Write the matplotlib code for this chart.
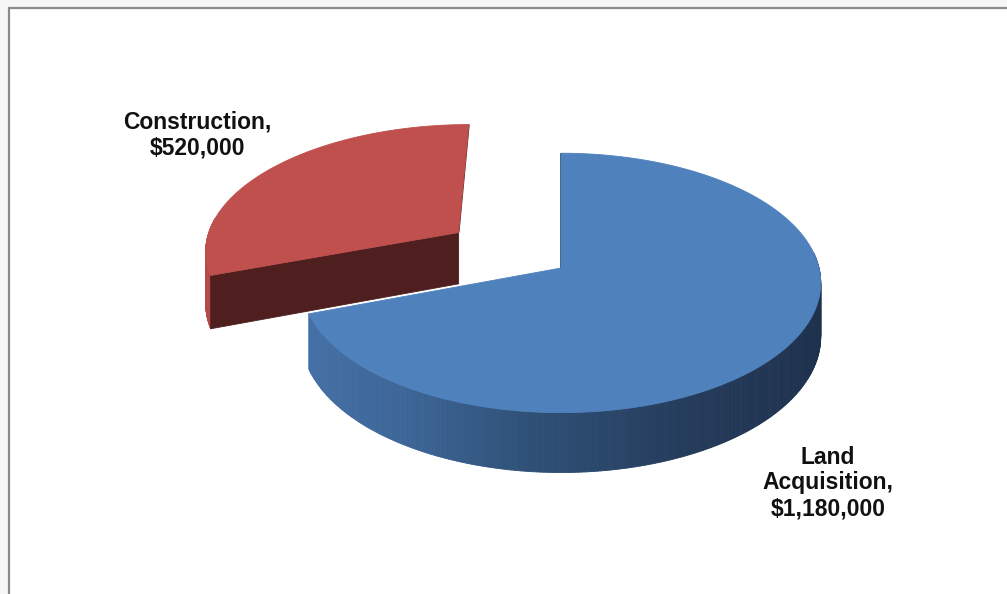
import numpy as np
import matplotlib
matplotlib.use("Agg")
import matplotlib.pyplot as plt
from matplotlib.patches import Polygon, Rectangle
from matplotlib.collections import PolyCollection
from matplotlib.colors import to_rgb

# budget split
names = ["Land\nAcquisition", "Construction"]
values = [1180000, 520000]
explode = [0.0, 0.5]

top_colors = ["#4f81bd", "#c0504d"]
cut_colors = ["#1f3450", "#4f1f1f"]
# side wall shading, keyed on cos(angle): light at the left, dark at the right
wall_stops = [
    [(-1.0, "#4672a8"), (-0.55, "#3d6698"), (-0.12, "#2f5178"), (0.46, "#243b5a"), (1.0, "#1e314d")],
    [(-1.0, "#b64b48"), (1.0, "#8a3836")],
]
label_xy = [(828, 483), (197, 135)]

W, H = 1007, 594
CX, CY = 561, 268      # screen position of the pie centre
A, B = 258, 128        # half axes of the top ellipse
K = 0.115              # perspective strength
DEPTH = 53             # pie thickness


def project(u, v, z=0.0):
    f = 1.0 / (1.0 + K * v)
    return CX + A * u * f, CY - B * v * f + DEPTH * z * f


def wall_color(stops, c):
    xs = [s[0] for s in stops]
    rgb = np.array([to_rgb(s[1]) for s in stops])
    return tuple(np.interp(c, xs, rgb[:, k]) for k in range(3))


fig = plt.figure(figsize=(W / 100, H / 100), dpi=100, facecolor="#f6f6f6")
ax = fig.add_axes([0, 0, 1, 1])
ax.set_xlim(0, W)
ax.set_ylim(H, 0)
ax.axis("off")
ax.add_patch(Rectangle((9, 8), W, H, facecolor="white", edgecolor="#8a8a8a",
                       lw=1.6, zorder=0))

fracs = np.array(values, dtype=float) / sum(values)
ends = 90 - 360 * np.cumsum(fracs)
starts = ends + 360 * fracs

slices = []
for i in range(len(values)):
    t1, t2 = ends[i], starts[i]
    mid = np.radians((t1 + t2) / 2)
    ou, ov = explode[i] * np.cos(mid), explode[i] * np.sin(mid)
    slices.append((ov, i, t1, t2, ou))

# far slices first
slices.sort(key=lambda s: -s[0])

for ov, i, t1, t2, ou in slices:
    ts = np.radians(np.linspace(t1, t2, 400))
    ru, rv = ou + np.cos(ts), ov + np.sin(ts)
    tx, ty = project(ru, rv, 0)
    bx, by = project(ru, rv, 1)
    ax0, ay0 = project(ou, ov, 0)
    ax1, ay1 = project(ou, ov, 1)

    # outer wall, near half only
    quads, cols = [], []
    for j in range(len(ts) - 1):
        tm = (ts[j] + ts[j + 1]) / 2
        if np.sin(tm) > 0.12:
            continue
        quads.append([(tx[j], ty[j]), (tx[j + 1], ty[j + 1]),
                      (bx[j + 1], by[j + 1]), (bx[j], by[j])])
        cols.append(wall_color(wall_stops[i], np.cos(tm)))
    if quads:
        ax.add_collection(PolyCollection(quads, facecolors=cols, edgecolors=cols,
                                         linewidths=0.6, zorder=2))

    # cut faces
    for t, k, sign in [(t1, 0, 1), (t2, -1, -1)]:
        c = np.cos(np.radians(t))
        if abs(c) < 1e-6:
            ax.plot([ax0, tx[k]], [ay0, ty[k]], color=cut_colors[i], lw=1.2,
                    solid_capstyle="butt", zorder=2)
        elif sign * c > 0:
            ax.add_patch(Polygon([(ax0, ay0), (tx[k], ty[k]), (bx[k], by[k]), (ax1, ay1)],
                                 closed=True, facecolor=cut_colors[i],
                                 edgecolor=cut_colors[i], lw=0.6, zorder=3))

    # top face
    pts = [(ax0, ay0)] + list(zip(tx, ty))
    ax.add_patch(Polygon(pts, closed=True, facecolor=top_colors[i],
                         edgecolor=top_colors[i], lw=0.6, zorder=4))

for name, val, (lx, ly) in zip(names, values, label_xy):
    ax.text(lx, ly, f"{name},\n${val:,}", ha="center", va="center",
            fontsize=16.5, fontweight="bold", family="Liberation Sans",
            linespacing=1.15, color="#111111", zorder=5)

fig.savefig("out.png", dpi=100, facecolor=fig.get_facecolor())
